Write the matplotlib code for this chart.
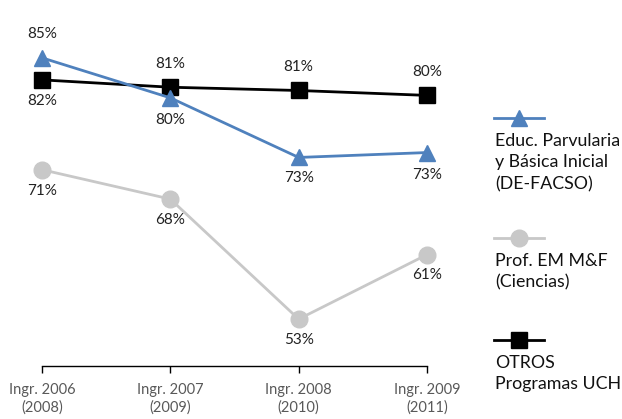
import numpy as np
import matplotlib.pyplot as plt
from matplotlib.lines import Line2D

plt.rcParams['font.family'] = ['Lato', 'DejaVu Sans']

# datos
categorias = ['Ingr. 2006\n(2008)', 'Ingr. 2007\n(2009)', 'Ingr. 2008\n(2010)', 'Ingr. 2009\n(2011)']
educ_parvularia = [85.0, 80.1, 72.8, 73.4]
prof_em = [71.3, 67.7, 53.0, 60.9]
otros_uch = [82.3, 81.4, 81.0, 80.4]

nombres = ['Educ. Parvularia\ny Básica Inicial\n(DE-FACSO)', 'Prof. EM M&F\n(Ciencias)', 'OTROS\nProgramas UCH']

azul = '#4F81BD'
gris = '#C8C8C8'
negro = '#000000'

fig = plt.figure(figsize=(6.22, 4.19), dpi=100)
ax = fig.add_axes([42 / 622, 53 / 419, 385 / 622, 349 / 419])
x = np.arange(len(categorias))

ax.plot(x, prof_em, color=gris, lw=2, marker='o', ms=12, clip_on=False, zorder=2)
ax.plot(x, otros_uch, color=negro, lw=2, marker='s', ms=11, clip_on=False, zorder=3)
ax.plot(x, educ_parvularia, color=azul, lw=2, marker='^', ms=12, clip_on=False, zorder=4)

# etiquetas de valores: desplazamiento en puntos (arriba / abajo)
def etiquetas(vals, offsets):
    for xi, v, dy in zip(x, vals, offsets):
        ax.annotate(f'{v:.0f}%', (xi, v), xytext=(0, dy), textcoords='offset points',
                    ha='center', va='center', fontsize=11, color='#222222')

etiquetas(educ_parvularia, [17, -16, -15, -16])
etiquetas(otros_uch, [-15, 17, 17, 17])
etiquetas(prof_em, [-15, -15, -15, -15])

ax.set_xlim(0, 3)
ax.set_ylim(47.26, 90)
ax.set_xticks(x)
ax.set_xticklabels(categorias, fontsize=10.5, color='#595959', linespacing=1.3)
ax.tick_params(axis='x', length=5, width=1, direction='out', pad=7)
ax.set_yticks([])
for lado in ['top', 'right', 'left']:
    ax.spines[lado].set_visible(False)
ax.spines['bottom'].set_linewidth(1)

# leyenda a la derecha, cada muestra encima de su texto
ley = fig.add_axes([0, 0, 1, 1], facecolor='none')
ley.set_xlim(0, 622)
ley.set_ylim(419, 0)
ley.axis('off')
estilos = [(azul, '^', 12), (gris, 'o', 12), (negro, 's', 11)]
y_muestra = [118, 238, 340]
for (c, m, s), ym, nombre in zip(estilos, y_muestra, nombres):
    ley.add_line(Line2D([494, 544], [ym, ym], color=c, lw=2))
    ley.plot([519], [ym], marker=m, ms=s, color=c)
    ley.text(495, ym + 15, nombre, fontsize=12.8, va='top', ha='left',
             color='#111111', linespacing=1.42)

fig.savefig('out.png', dpi=100)
